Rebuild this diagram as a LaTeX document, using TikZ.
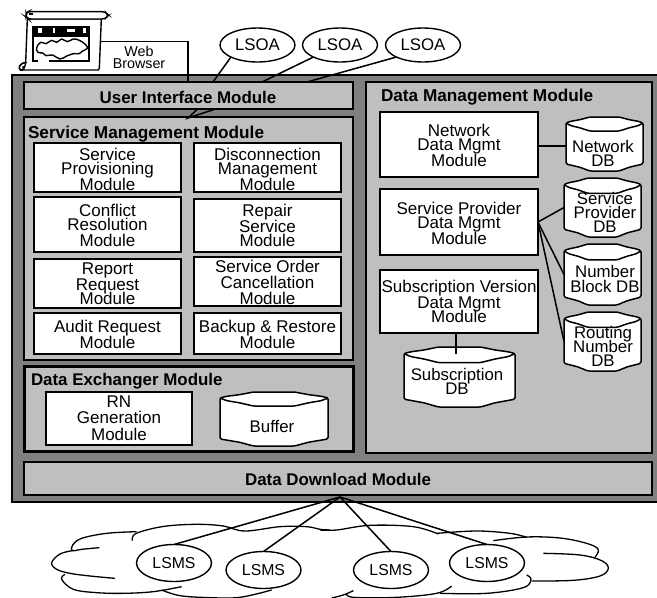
\documentclass[tikz,border=0pt]{standalone}
\usepackage{fontspec}
\setmainfont{Liberation Sans}
\usetikzlibrary{shapes.geometric}
\normallineskiplimit=-50pt
\lineskiplimit=-50pt
\definecolor{outergray}{gray}{0.5}
\definecolor{innergray}{gray}{0.75}
\tikzset{
  modbox/.style={draw=black,line width=1.7pt,fill=white,inner sep=0pt,outer sep=0pt},
  modtext/.style={inner sep=0pt,outer sep=0pt,align=center,anchor=base,font=\fontsize{17}{14}\selectfont},
  panel/.style={draw=black,line width=1.7pt,fill=innergray},
  heading/.style={inner sep=0pt,outer sep=0pt,font=\fontsize{16.9}{17}\selectfont\bfseries},
  oval/.style={draw=black,line width=1.4pt,fill=white,ellipse,inner sep=0pt,outer sep=0pt},
  link/.style={draw=black,line width=1.5pt},
  dbtext/.style={inner sep=0pt,outer sep=0pt,align=center,anchor=base,font=\fontsize{16.8}{14}\selectfont},
  stroke/.style={draw=black,line width=1.3pt,smooth,tension=0.6},
}
% name, x1, y1, x2, y2, last baseline y, text
\newcommand{\modulebox}[7]{%
  \pgfmathsetmacro{\myw}{#4-#2}\pgfmathsetmacro{\myh}{#5-#3}%
  \pgfmathsetmacro{\mycx}{(#4+#2)/2}\pgfmathsetmacro{\mycy}{(#5+#3)/2}%
  \node[modbox,minimum width=\myw pt,minimum height=\myh pt] (#1) at (\mycx,\mycy) {};
  \node[modtext] (#1-t) at (\mycx,#6) {#7};}
% name, x1, y1, x2, y2, text x, last baseline y, text
\newcommand{\dbcyl}[8]{%
  \pgfmathsetmacro{\myw}{(#4-#2)/100}\pgfmathsetmacro{\myh}{(#5-#3)/100}%
  \pgfmathsetmacro{\myfw}{#4-#2}\pgfmathsetmacro{\myfh}{#5-#3}%
  \pgfmathsetmacro{\mycx}{(#4+#2)/2}\pgfmathsetmacro{\mycy}{(#5+#3)/2}%
  \begin{scope}[shift={(#2,#3)},x=\myw pt,y=-\myh pt]
    \draw[line width=1.5pt,fill=white,rounded corners=1.5pt]
      (0,11)--(6,8)--(18,5)--(31,0)--(69,0)--(82,5)--(94,8)--(100,11)
      --(100,87)--(82,93)--(69,100)--(31,100)--(18,93)--(0,87)--cycle;
    \draw[line width=1.5pt,rounded corners=1.5pt]
      (0,11)--(6,16)--(18,20)--(31,26)--(69,26)--(82,20)--(94,16)--(100,11);
  \end{scope}
  \node[inner sep=0pt,outer sep=0pt,minimum width=\myfw pt,minimum height=\myfh pt] (#1) at (\mycx,\mycy) {};
  \node[dbtext] (#1-t) at (#6,#7) {#8};}
\begin{document}
\begin{tikzpicture}[x=1pt,y=-1pt]
\useasboundingbox (0,0) rectangle (657,598);
% outer frame and panels
\draw[draw=black,line width=1.5pt,fill=outergray] (12,75) rectangle (660,502);
\node[panel,inner sep=0pt,outer sep=0pt,minimum width=329pt,minimum height=27pt] (ui) at (188.5,95.5) {};
\node[heading,anchor=base] (uit) at (188,103) {User Interface Module};
\node[panel,inner sep=0pt,outer sep=0pt,minimum width=329pt,minimum height=243pt] (smm) at (188.5,238.5) {};
\node[heading,anchor=base west,font=\fontsize{17.2}{17}\selectfont\bfseries] (smmt) at (28,138) {Service Management Module};
\node[draw=black,line width=3pt,fill=innergray,inner sep=0pt,outer sep=0pt,minimum width=329pt,minimum height=85pt] (dex) at (188.5,409) {};
\node[heading,anchor=base west] (dext) at (31,385) {Data Exchanger Module};
\node[panel,inner sep=0pt,outer sep=0pt,minimum width=286pt,minimum height=371pt] (dmm) at (509,267.5) {};
\node[heading,anchor=base west,font=\fontsize{17.2}{17}\selectfont\bfseries] (dmmt) at (381,101) {Data Management Module};
\node[panel,inner sep=0pt,outer sep=0pt,minimum width=628pt,minimum height=33pt] (ddm) at (338,478.5) {};
\node[heading,anchor=base] (ddmt) at (338,485) {Data Download Module};
% service modules
\modulebox{sp}{34}{143}{181}{192}{190}{Service\\Provisioning\\[2pt]Module}
\modulebox{dis}{194}{143}{341}{192}{190}{Disconnection\\Management\\[2pt]Module}
\modulebox{con}{34}{197}{181}{252}{246}{Conflict\\Resolution\\[2pt]Module}
\modulebox{rep}{194}{199}{341}{252}{246}{Repair\\[2pt]Service\\Module}
\modulebox{rpt}{34}{259}{181}{308}{304}{Report\\[2pt]Request\\Module}
\modulebox{soc}{194}{257}{341}{306}{304}{Service Order\\[2pt]Cancellation\\[2pt]Module}
\modulebox{aud}{34}{313}{181}{354}{348}{Audit Request\\[2pt]Module}
\modulebox{bak}{194}{313}{341}{354}{348}{Backup \& Restore\\[2pt]Module}
% exchanger
\modulebox{rn}{46}{392}{192}{445}{440}{RN\\[2pt]Generation\\[3pt]Module}
\dbcyl{buf}{220}{392}{328}{446}{272}{432}{Buffer}
% data management
\modulebox{net}{380}{112}{538}{177}{166}{Network\\Data Mgmt\\[2pt]Module}
\modulebox{spd}{380}{189}{538}{255}{244}{Service Provider\\Data Mgmt\\[2pt]Module}
\modulebox{sub}{380}{270}{538}{333}{322}{Subscription Version\\[2pt]Data Mgmt\\Module}
\dbcyl{netdb}{566}{117}{643}{171}{603}{166}{Network\\DB}
\dbcyl{spdb}{564}{178}{641}{237}{605}{232}{Service\\[-.5pt]Provider\\DB}
\dbcyl{nbdb}{564}{244}{641}{305}{605}{292}{Number\\[1pt]Block DB}
\dbcyl{rndb}{564}{312}{641}{371}{603}{366}{Routing\\Number\\DB}
\dbcyl{subdb}{404}{347}{515}{407}{457}{394}{Subscription\\DB}
\coordinate (sublink) at (456,354);
\draw[link] (net.east) ++(0,1.5) coordinate (netlink) -- (netlink -| netdb.west);
\draw[link] (spd.east) -- (spdb.west);
\draw[link] (spd.east) -- (nbdb.west);
\draw[link] (spd.east) -- (rndb.west);
\draw[link] (sublink |- sub.south) -- (sublink);
% browser icon
\begin{scope}[shift={(10,5)},x=.3333pt,y=-.3333pt]
  \draw[line width=1.4pt,fill=white] (52,42) -- (47,172) .. controls (45,190) and (40,195) .. (30,195) -- (265,195) -- (268,190) -- (274,42) -- cycle;
  \draw[line width=1.4pt,fill=white,rounded corners=3pt] (55,20) -- (285,20) -- (296,31) -- (285,42) -- (55,42) -- (48,36) -- (48,24) -- cycle;
  \draw[line width=2pt] (58,28) -- (68,28);
  \draw[line width=1.6pt] (50,172) .. controls (30,172) and (22,190) .. (32,195) .. controls (40,198) and (45,188) .. (38,184);
  \fill[black] (65,62) rectangle (240,172);
  \fill[white] (72,96) rectangle (233,166);
  \fill[white] (85,70) rectangle (96,84);
  \fill[white] (128,70) rectangle (136,84);
  \fill[white] (170,72) rectangle (195,82);
  \fill[white] (220,70) rectangle (228,84);
  \draw[line width=1.4pt,fill=white] plot[smooth cycle,tension=.7] coordinates
    {(80,128) (92,112) (108,116) (125,106) (140,112) (155,102) (172,110) (190,102) (208,106) (226,118) (232,130) (218,138) (208,146) (190,146) (172,152) (150,162) (128,150) (108,152) (98,144) (84,142)};
  \fill[white] (85,160) rectangle (118,178);
\end{scope}
\node[inner sep=0pt,outer sep=0pt,minimum width=75pt,minimum height=45pt] (browser) at (63,41.5) {};
\coordinate (uiweb) at (188,82);
\draw[link] (browser.east) -| (uiweb);
\node[inner sep=0pt,outer sep=0pt,align=center,anchor=base,font=\fontsize{14.3}{11.3}\selectfont] (webt) at (139,68) {Web\\Browser};
% LSOA
\node[oval,minimum width=75pt,minimum height=34pt,font=\fontsize{16.8}{17}\selectfont] (lsoa1) at (257.5,45) {LSOA};
\node[oval,minimum width=75pt,minimum height=34pt,font=\fontsize{16.8}{17}\selectfont] (lsoa2) at (340,45) {LSOA};
\node[oval,minimum width=75pt,minimum height=34pt,font=\fontsize{16.8}{17}\selectfont] (lsoa3) at (423,45) {LSOA};
\coordinate (uia) at (213,82);
\coordinate (uib) at (262,82);
\coordinate (uic) at (307,82);
\draw[link] (lsoa1.south west) -- (uia);
\draw[link] (lsoa2.south west) -- (uib);
\draw[link] (lsoa3.south west) -- (uic);
% UI to service
\coordinate (smma) at (188,118);
\coordinate (uid) at (214,109.5);
\coordinate (uie) at (197,109.5);
\draw[link] (uid) -- (smma) -- (uie);
% cloud
\begin{scope}[shift={(40,510)},x=.3333pt,y=-.3333pt]
  \draw[stroke] plot coordinates {(178,113) (125,118) (97,122) (98,105) (125,85) (200,70) (290,65)};
  \draw[stroke] plot coordinates {(277,92) (285,72) (340,55) (400,46) (480,43) (550,48) (615,63) (720,50) (800,50) (840,58) (870,60)};
  \draw[stroke] plot coordinates {(225,205) (150,198) (90,190) (50,178) (35,158) (60,132) (97,122)};
  \draw[stroke] plot coordinates {(75,193) (65,208) (100,238) (170,248) (250,250) (340,245) (425,230)};
  \draw[stroke] plot coordinates {(365,240) (420,257) (510,263) (600,262) (695,240)};
\end{scope}
\begin{scope}[shift={(320,510)},x=.3333pt,y=-.3333pt]
  \draw[stroke] plot coordinates {(0,60) (50,60) (150,46) (280,50) (355,72)};
  \draw[stroke] plot coordinates {(350,70) (470,63) (570,70) (620,82)};
  \draw[stroke] plot coordinates {(520,92) (620,81) (720,84) (800,100) (835,118) (825,142)};
  \draw[stroke] plot coordinates {(670,130) (780,135) (845,152) (865,175) (840,198) (760,211) (635,213)};
  \draw[stroke] plot coordinates {(620,195) (633,208) (610,233) (500,250) (360,250)};
  \draw[stroke] plot coordinates {(395,228) (350,250) (230,262) (100,262) (80,250)};
  \draw[stroke] plot coordinates {(100,242) (70,255) (35,264)};
\end{scope}
% LSMS
\tikzset{lsmsoval/.style={oval,minimum width=75pt,minimum height=37pt,font=\fontsize{15.8}{17}\selectfont}}
\node[lsmsoval] (lsms1) at (174,563) {LSMS};
\node[lsmsoval] (lsms2) at (263.5,570) {LSMS};
\node[lsmsoval] (lsms3) at (391,570) {LSMS};
\node[lsmsoval] (lsms4) at (487,563) {LSMS};
\coordinate (apex) at (340,497);
\draw[link] (apex) -- (lsms1.north);
\draw[link] (apex) -- (lsms2.north);
\draw[link] (apex) -- (lsms3.north);
\draw[link] (apex) -- (lsms4.north);
\end{tikzpicture}
\end{document}
